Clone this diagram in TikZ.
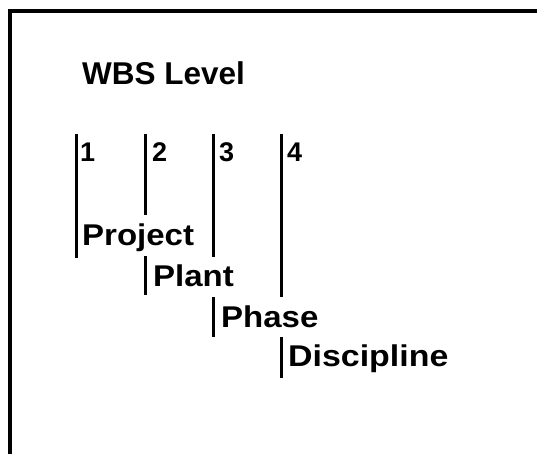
\documentclass[tikz,border=0pt]{standalone}
\usepackage{fontspec}
\usepackage{graphicx}
\setmainfont{Liberation Sans}
\begin{document}
\begin{tikzpicture}[x=1pt,y=-1pt,
  bar/.style={line width=3pt},
  frame/.style={line width=4pt},
  ttl/.style={anchor=base west,inner sep=0pt,font=\bfseries\fontsize{31.5}{32}\selectfont},
  lvl/.style={anchor=base west,inner sep=0pt,font=\bfseries\fontsize{27}{27}\selectfont},
  lab/.style={anchor=base west,inner sep=0pt,font=\bfseries\fontsize{30}{30}\selectfont}]
\useasboundingbox (0,0) rectangle (537,454);
\clip (0,0) rectangle (537,454);
\draw[frame] (9.5,11.5) rectangle (580,500);
\node[ttl] (title) at (82,84.5) {WBS Level};
% level numbers
\node[lvl] (n1) at (80,162) {1};
\node[lvl] (n2) at (152,162) {2};
\node[lvl] (n3) at (219,162) {3};
\node[lvl] (n4) at (287,162) {4};
% labels
\node[lab] (project) at (82,245) {\scalebox{1.1}[1]{Project}};
\node[lab] (plant) at (153,286) {\scalebox{1.1}[1]{Plant}};
\node[lab] (phase) at (221,327) {\scalebox{1.1}[1]{Phase}};
\node[lab] (disc) at (288,366) {\scalebox{1.13}[1]{Discipline}};
% bars
\coordinate (b1t) at (76.5,134); \coordinate (b1b) at (76.5,258);
\coordinate (b2t) at (145.5,134); \coordinate (b2b) at (145.5,215);
\coordinate (b3t) at (213,134); \coordinate (b3b) at (213,257);
\coordinate (b4t) at (281,134); \coordinate (b4b) at (281,296.5);
\coordinate (p2t) at (145.5,256); \coordinate (p2b) at (145.5,295);
\coordinate (p3t) at (213,297); \coordinate (p3b) at (213,337);
\coordinate (p4t) at (281,337); \coordinate (p4b) at (281,378);
\draw[bar] (b1t) -- (b1b);
\draw[bar] (b2t) -- (b2b);
\draw[bar] (b3t) -- (b3b);
\draw[bar] (b4t) -- (b4b);
\draw[bar] (p2t) -- (p2b);
\draw[bar] (p3t) -- (p3b);
\draw[bar] (p4t) -- (p4b);
\end{tikzpicture}
\end{document}
